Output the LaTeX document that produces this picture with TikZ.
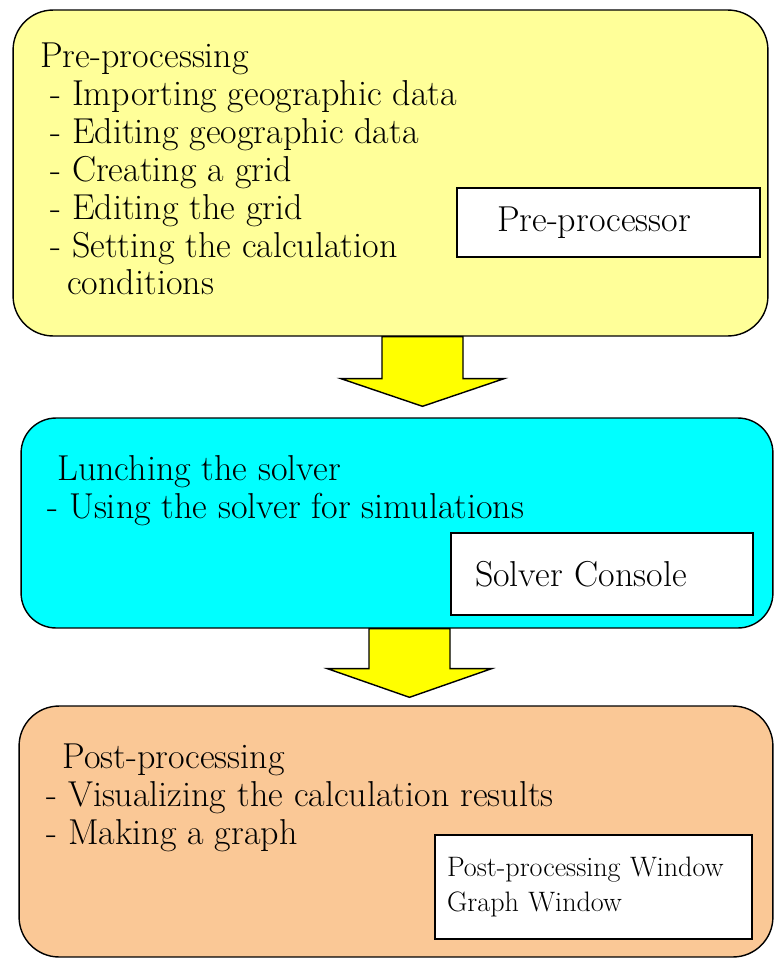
\documentclass[tikz,border=0pt]{standalone}
\usepackage{tikz}
\usetikzlibrary{calc}
\definecolor{preyellow}{RGB}{255,255,153}
\definecolor{solvercyan}{RGB}{0,255,255}
\definecolor{postpeach}{RGB}{250,200,150}
\definecolor{arrowyellow}{RGB}{255,255,0}
\tikzset{
	stage/.style={draw=black, line width=0.8pt, rounded corners=0.8cm, inner sep=0pt},
	tool/.style={draw=black, line width=1.1pt, fill=white, align=left, inner ysep=0pt},
	itemtext/.style={anchor=north west, inner sep=0pt, align=left, font=\fontsize{20.5}{21.6}\selectfont},
	bigarrow/.style={draw=black, line width=0.8pt, fill=arrowyellow, line join=miter}
}

\begin{document}
\begin{tikzpicture}[x=0.02cm, y=-0.02cm]
		%%%%% START %%%%%
		\useasboundingbox (0,0) rectangle (774,960);
		
		\node[stage, fill=preyellow, minimum width=15.1cm, minimum height=6.52cm] (pre) at (390.5,173) {};
		\node[stage, fill=solvercyan, rounded corners=0.7cm, minimum width=15.04cm, minimum height=4.2cm] (solver) at (397,523) {};
		\node[stage, fill=postpeach, minimum width=15.08cm, minimum height=5.02cm] (post) at (396,831.5) {};
		
		\node[itemtext] (pretext) at (40,42.3) {Pre-processing\\
			\hspace{0.2cm}- Importing geographic data\\
			\hspace{0.2cm}- Editing geographic data\\
			\hspace{0.2cm}- Creating a grid\\
			\hspace{0.2cm}- Editing the grid\\
			\hspace{0.2cm}- Setting the calculation\\
			\hspace{0.54cm}conditions};
		\node[itemtext] (solvertext) at (47,455) {\hspace{0.2cm}Lunching the solver\\
			- Using the solver for simulations};
		\node[itemtext] (posttext) at (46,743.3) {\hspace{0.32cm}Post-processing\\
			- Visualizing the calculation results\\
			- Making a graph};
		
		\node[tool, font=\fontsize{20.5}{21.6}\selectfont, inner xsep=0.8cm, text width=4.46cm, minimum height=1.38cm] (preproc) at (608.5,222.5) {Pre-processor};
		\node[tool, font=\fontsize{20.5}{21.6}\selectfont, inner xsep=0.48cm, text width=5.08cm, minimum height=1.64cm] (console) at (602,574) {Solver Console};
		\node[tool, font=\fontsize{16}{20}\selectfont, inner xsep=0.24cm, text width=5.86cm, minimum height=2.08cm] (windows) at (593.5,887) {Post-processing Window\\Graph Window};
		
		\draw[bigarrow] ($(pre.south)+(-8.5,0)$) -- ++(0,42) -- ++(-41,0) -- ($(solver.north)+(25.5,-11)$)
			-- ($(pre.south)+(113.5,42)$) -- ++(-41,0) -- ($(pre.south)+(72.5,0)$) -- cycle;
		\draw[bigarrow] ($(solver.south)+(-28,0)$) -- ++(0,40) -- ++(-41.5,0) -- ($(post.north)+(13.5,-8)$)
			-- ($(solver.south)+(94.5,40)$) -- ++(-41.5,0) -- ($(solver.south)+(53,0)$) -- cycle;
		
		%%%%% END %%%%%
\end{tikzpicture}
\end{document}
